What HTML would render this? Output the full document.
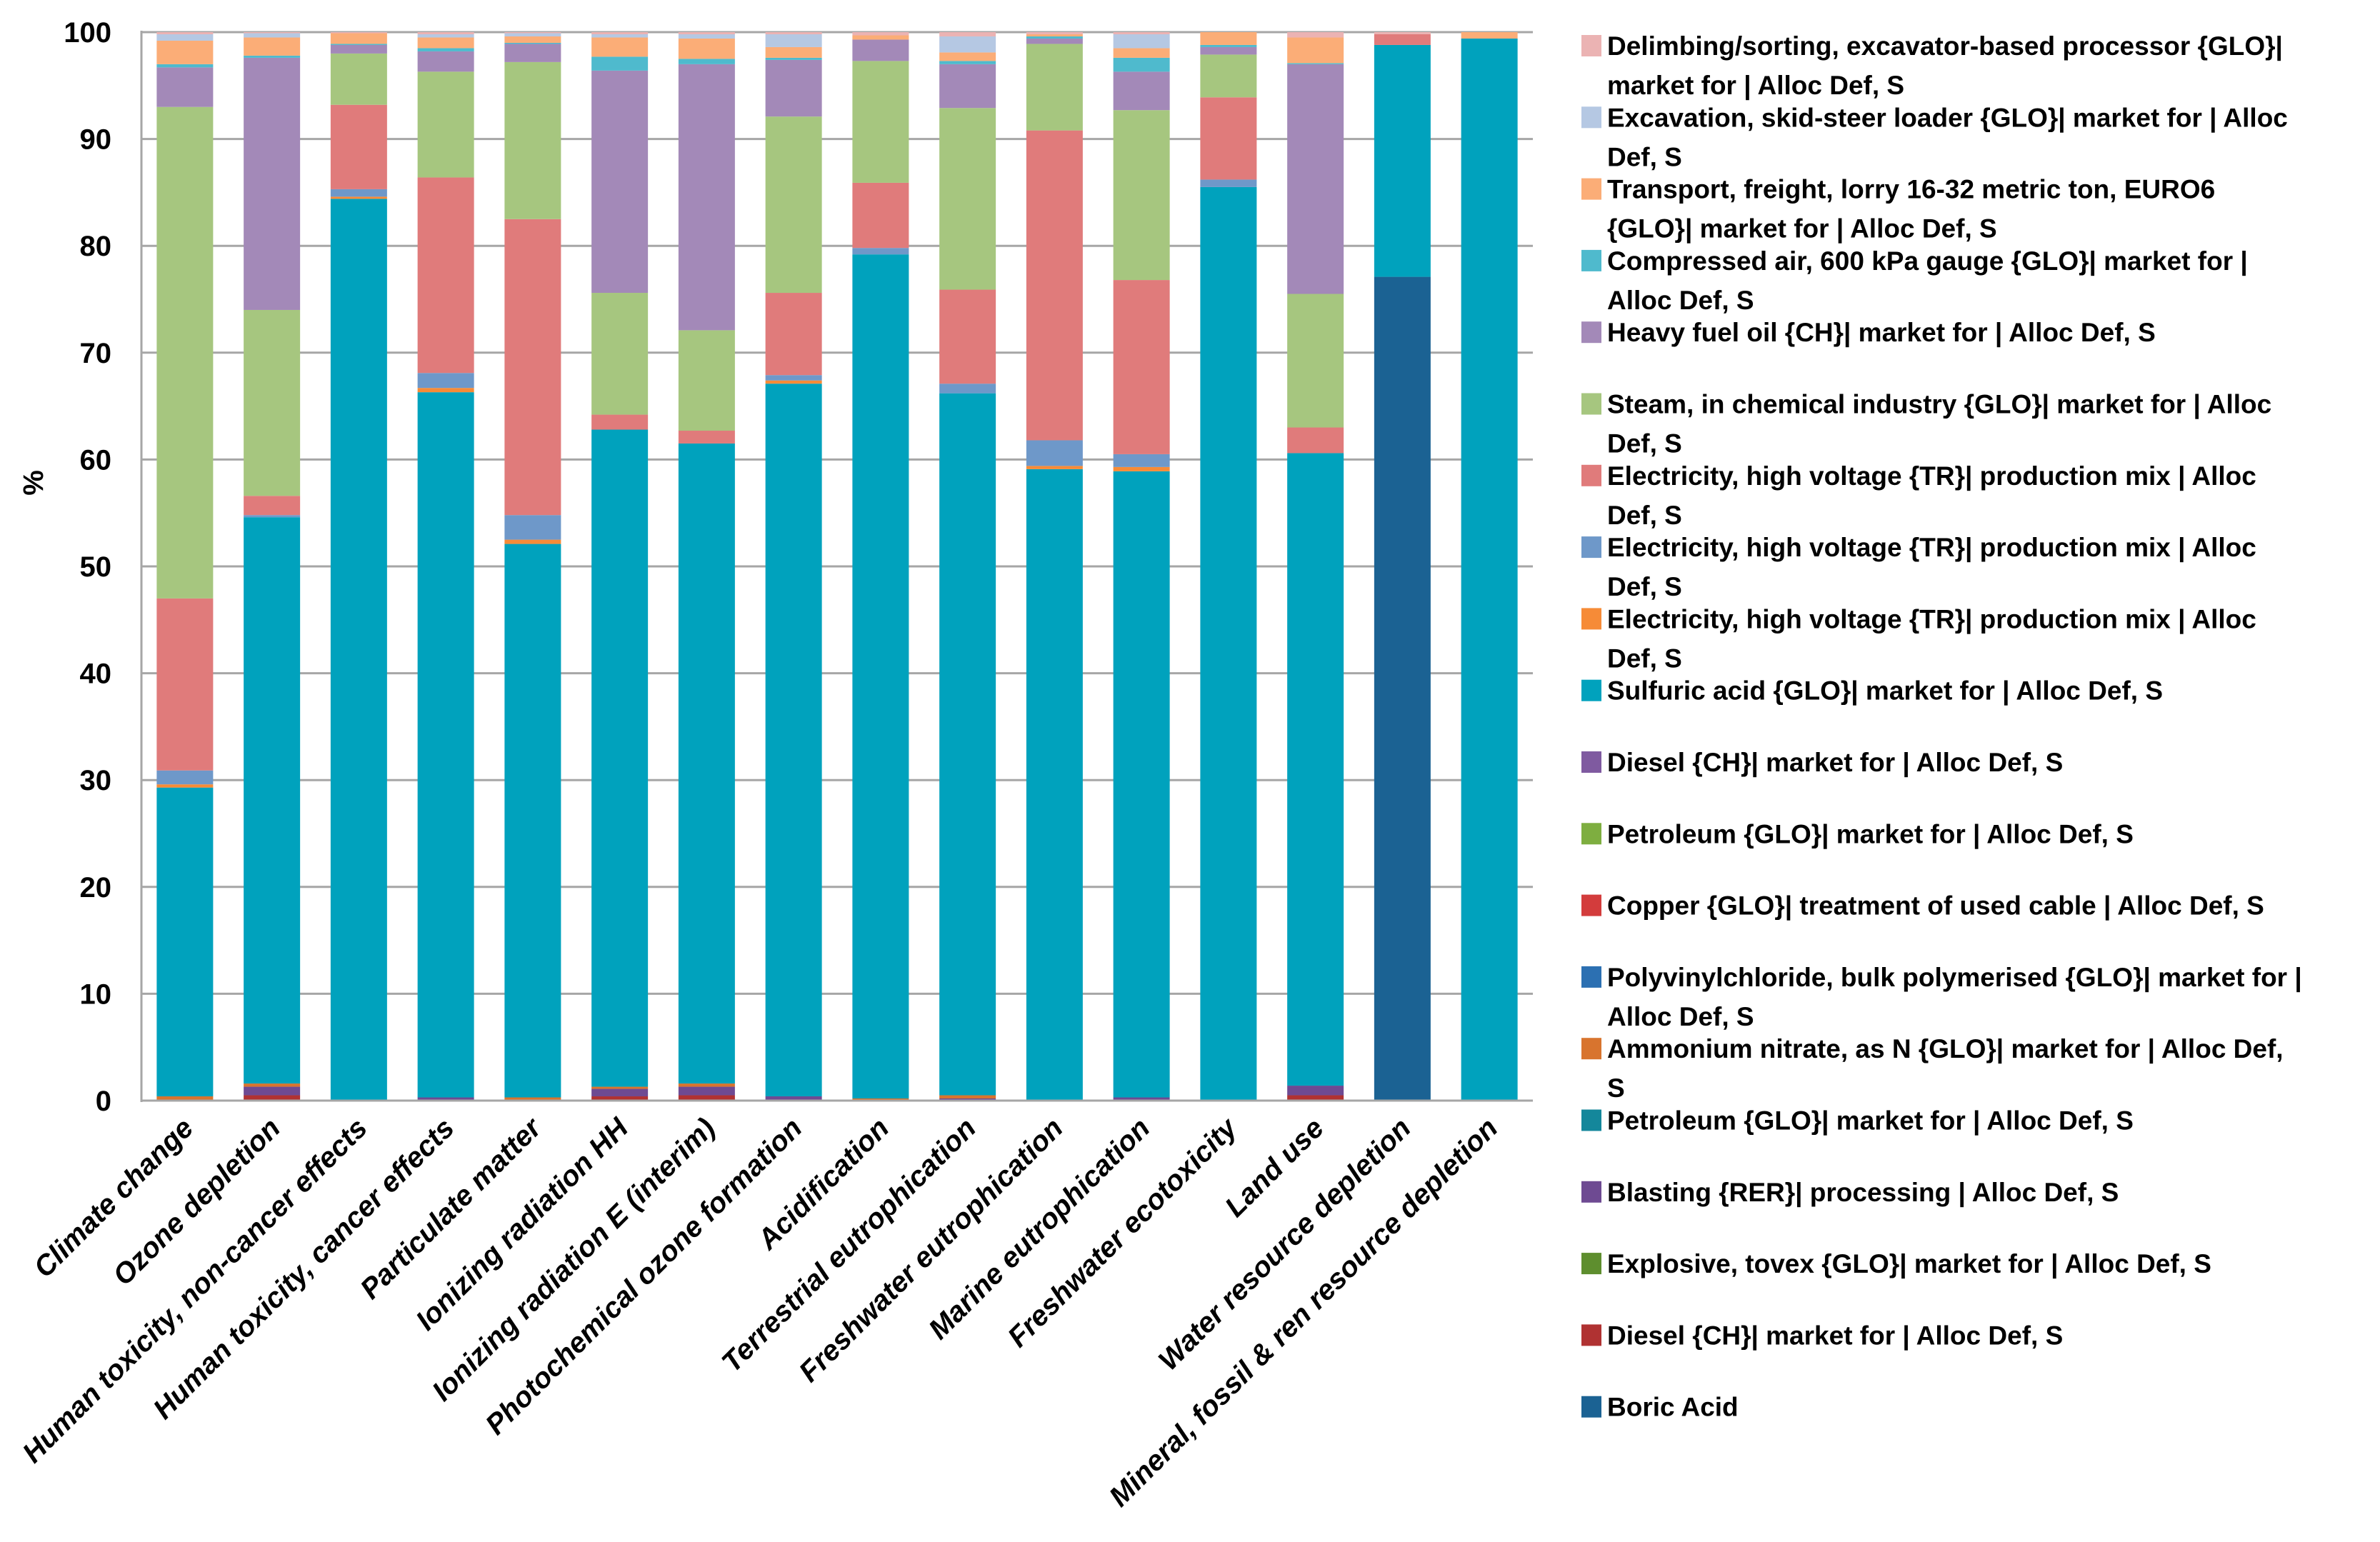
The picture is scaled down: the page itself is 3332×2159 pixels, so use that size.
<!DOCTYPE html>
<html><head><meta charset="utf-8"><style>
html,body{margin:0;padding:0;background:#fff;}
svg{display:block;font-family:"Liberation Sans",sans-serif;font-weight:bold;}
</style></head><body>
<svg id="chart" width="3332" height="2159" viewBox="0 0 3332 2159" xmlns="http://www.w3.org/2000/svg">
<g id="grid"></g><g id="bars"></g><g id="axes"></g><g id="legend"></g>
</svg>
<script>
const categories = ["Climate change","Ozone depletion","Human toxicity, non-cancer effects","Human toxicity, cancer effects","Particulate matter","Ionizing radiation HH","Ionizing radiation E (interim)","Photochemical ozone formation","Acidification","Terrestrial eutrophication","Freshwater eutrophication","Marine eutrophication","Freshwater ecotoxicity","Land use","Water resource depletion","Mineral, fossil & ren resource depletion"];
const yTicks = [0,10,20,30,40,50,60,70,80,90,100];
// series bottom -> top
const boric      = [0,0,0,0,0,0,0,0,0,0,0,0,0,0,77.1,0];
const dieselCH   = [0,0.5,0,0,0,0.4,0.5,0,0,0,0,0,0,0.5,0,0];
const explosive  = [0,0,0,0,0,0,0,0,0,0,0,0,0,0,0,0];
const blasting   = [0.1,0.8,0,0.3,0,0.7,0.8,0.4,0,0.2,0,0.3,0,0.9,0,0];
const petroleumA = [0,0,0,0,0,0,0,0,0,0,0,0,0,0,0,0];
const ammonium   = [0.3,0.3,0,0,0.3,0.2,0.3,0,0.2,0.3,0,0,0,0,0,0];
const pvc        = [0,0,0,0,0,0,0,0,0,0,0,0,0,0,0,0];
const copper     = [0,0,0,0,0,0,0,0,0,0,0,0,0,0,0,0];
const petroleumB = [0,0,0,0,0,0,0,0,0,0,0,0,0,0,0,0];
const dieselB    = [0,0,0,0,0,0,0,0,0,0,0,0,0,0,0,0];
const sulfuric   = [28.9,53.0,84.4,66.0,51.8,61.5,59.9,66.7,79.0,65.7,59.1,58.6,85.5,59.2,21.7,99.4];
const elecOrange = [0.3,0,0.2,0.4,0.4,0,0,0.3,0,0,0.3,0.4,0,0,0,0];
const elecBlue   = [1.3,0.2,0.7,1.4,2.3,0,0,0.5,0.6,0.9,2.4,1.2,0.7,0,0,0];
const elecRed    = [16.1,1.8,7.9,18.3,27.7,1.4,1.2,7.7,6.1,8.8,29.0,16.3,7.7,2.4,1.0,0];
const steam      = [46,17.4,4.8,9.9,14.7,11.4,9.4,16.5,11.4,17.0,8.1,15.9,4.0,12.5,0,0];
const heavyFuel  = [3.7,23.6,0.8,1.9,1.7,20.8,24.9,5.3,2.0,4.1,0.5,3.6,0.7,21.5,0,0];
const compressed = [0.3,0.2,0.1,0.3,0.1,1.3,0.5,0.2,0,0.3,0.2,1.3,0.2,0.1,0,0];
const transport  = [2.2,1.7,1.0,1.0,0.6,1.8,1.9,1.0,0.4,0.8,0.2,0.9,1.2,2.4,0,0.6];
const excavation = [0.6,0.4,0,0.3,0.3,0.3,0.4,1.2,0,1.5,0,1.3,0,0,0,0];
const delimbing  = [0.2,0.1,0.1,0.2,0.1,0.2,0.2,0.2,0.3,0.4,0.2,0.2,0,0.5,0.2,0];

const seriesValues = [boric,dieselCH,explosive,blasting,petroleumA,ammonium,pvc,copper,petroleumB,dieselB,sulfuric,elecOrange,elecBlue,elecRed,steam,heavyFuel,compressed,transport,excavation,delimbing];
const seriesLabels = [
 ["Boric Acid"],
 ["Diesel {CH}| market for | Alloc Def, S"],
 ["Explosive, tovex {GLO}| market for | Alloc Def, S"],
 ["Blasting {RER}| processing | Alloc Def, S"],
 ["Petroleum {GLO}| market for | Alloc Def, S"],
 ["Ammonium nitrate, as N {GLO}| market for | Alloc Def,","S"],
 ["Polyvinylchloride, bulk polymerised {GLO}| market for |","Alloc Def, S"],
 ["Copper {GLO}| treatment of used cable | Alloc Def, S"],
 ["Petroleum {GLO}| market for | Alloc Def, S"],
 ["Diesel {CH}| market for | Alloc Def, S"],
 ["Sulfuric acid {GLO}| market for | Alloc Def, S"],
 ["Electricity, high voltage {TR}| production mix | Alloc","Def, S"],
 ["Electricity, high voltage {TR}| production mix | Alloc","Def, S"],
 ["Electricity, high voltage {TR}| production mix | Alloc","Def, S"],
 ["Steam, in chemical industry {GLO}| market for | Alloc","Def, S"],
 ["Heavy fuel oil {CH}| market for | Alloc Def, S"],
 ["Compressed air, 600 kPa gauge {GLO}| market for |","Alloc Def, S"],
 ["Transport, freight, lorry 16-32 metric ton, EURO6","{GLO}| market for | Alloc Def, S"],
 ["Excavation, skid-steer loader {GLO}| market for | Alloc","Def, S"],
 ["Delimbing/sorting, excavator-based processor {GLO}|","market for | Alloc Def, S"]
];
const seriesColors = ["#1b6293","#b03232","#5e8e2e","#6e4a92","#14879b","#d8742e","#2c70b2","#d33c3c","#7eae40","#7f5aa0","#00a2bd","#f68b37","#6e98c9","#e07b7b","#a6c67f","#a389b8","#4fbacd","#fbad77","#b5c8e3","#ebb3b3"];

const NS="http://www.w3.org/2000/svg";
const X0=198, X1=2146, Y0=1541, Y100=45;
const n=categories.length, step=(X1-X0)/n, bw=79;
function y(v){return Y0-(Y0-Y100)*v/100;}
function xc(i){return X0+step*(i+0.5);}
function mk(tag,attrs,parent){const e=document.createElementNS(NS,tag);for(const k in attrs)e.setAttribute(k,attrs[k]);parent.appendChild(e);return e;}

const grid=document.getElementById('grid');
yTicks.forEach(t=>{
  if(t>0){const l=mk('line',{x1:X0,x2:X1,y1:y(t),y2:y(t),stroke:'#a6a6a6','stroke-width':3},grid);
  
  }
});
const bars=document.getElementById('bars');
for(let i=0;i<n;i++){
  let cum=0;
  for(let s=0;s<seriesValues.length;s++){
    const v=seriesValues[s][i]; if(!v) continue;
    const r=mk('rect',{x:xc(i)-bw/2,y:y(cum+v),width:bw,height:y(cum)-y(cum+v),fill:seriesColors[s]},bars);
    
    
    cum+=v;
  }
}
const axes=document.getElementById('axes');
const ya=mk('line',{x1:X0,x2:X0,y1:Y100-2,y2:Y0+2,stroke:'#a6a6a6','stroke-width':3},axes);


const xa=mk('line',{x1:X0,x2:X1,y1:Y0,y2:Y0,stroke:'#a6a6a6','stroke-width':3},axes);


yTicks.forEach(t=>{
  const tx=mk('text',{x:156,y:y(t)+14,'text-anchor':'end','font-size':40},axes);
  tx.textContent=t;
  
  
});
const yt=mk('text',{x:0,y:0,'text-anchor':'middle','font-size':40,transform:'translate(60,676) rotate(-90)'},axes);
yt.textContent='%';


categories.forEach((c,i)=>{
  const cx=xc(i)+14, cy=1582;
  const t=mk('text',{x:cx,y:cy,'text-anchor':'end','font-size':40,'font-style':'italic',transform:`rotate(-45 ${cx} ${cy})`},axes);
  t.textContent=c;
  
  
});
const lg=document.getElementById('legend');
for(let k=0;k<seriesLabels.length;k++){
  const s=seriesLabels.length-1-k;
  const cy=64+k*100.3;
  const g=mk('g',{},lg);
  
  
  mk('rect',{x:2214,y:cy-15,width:28,height:30,fill:seriesColors[s]},g);
  seriesLabels[s].forEach((line,j)=>{
    const t=mk('text',{x:2250,y:cy+13+j*55,'font-size':37},g);
    t.textContent=line;
  });
}
</script>
</body></html>
